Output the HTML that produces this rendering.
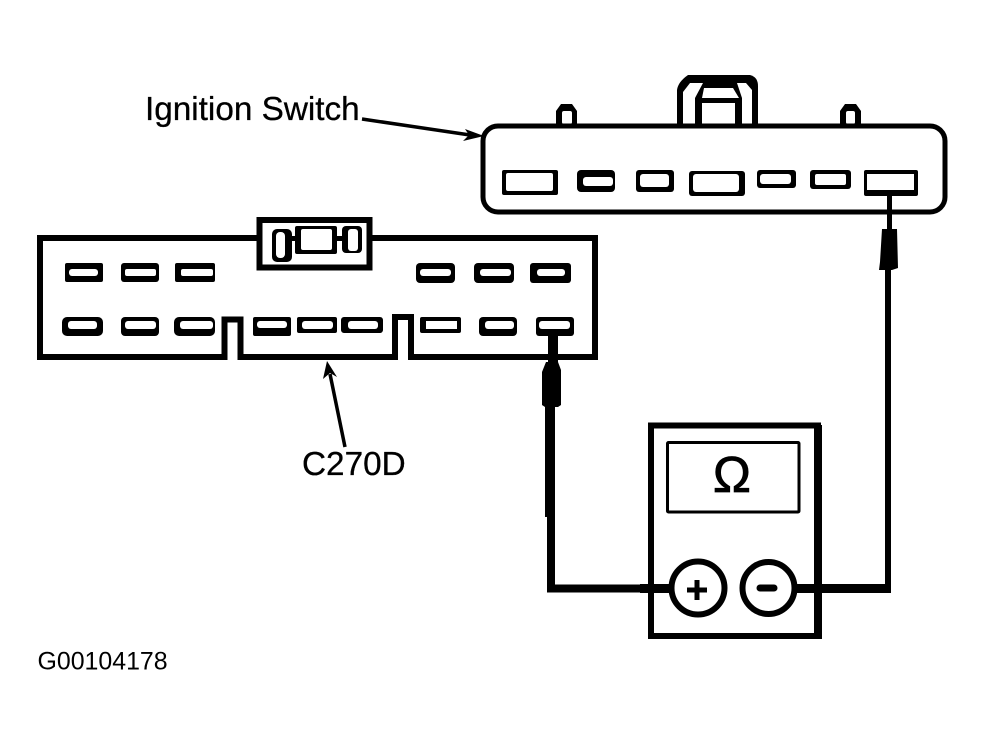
<!DOCTYPE html>
<html>
<head>
<meta charset="utf-8">
<style>
html,body{margin:0;padding:0;background:#fff;width:986px;height:745px;overflow:hidden}
svg{display:block}
text{font-family:"Liberation Sans",sans-serif;fill:#000}
.k{fill:#000}
.w{fill:#fff}
.l{fill:none;stroke:#000}
</style>
</head>
<body>
<svg width="986" height="745" viewBox="0 0 986 745" xmlns="http://www.w3.org/2000/svg">
<rect width="986" height="745" fill="#fff"/>

<!-- Labels -->
<text x="145" y="120" font-size="33.300" stroke="#000" stroke-width="0.300">Ignition Switch</text>
<text x="302" y="475" font-size="33.300" stroke="#000" stroke-width="0.300">C270D</text>
<text x="37.500" y="669.500" font-size="24.900">G00104178</text>

<!-- Ignition arrow -->
<path class="l" stroke-width="3.500" d="M362 119 L470 135"/>
<polygon class="k" points="484,136 465,129 469,135 463,141"/>

<!-- C270D arrow -->
<path class="l" stroke-width="3.500" d="M330 374 L345 447"/>
<polygon class="k" points="327,361 323,379 330,373 337,377"/>

<!-- Ignition switch tabs -->
<path class="k" d="M556 125 V111 L561 104 H572 L577 111 V125 Z"/>
<rect class="w" x="562" y="111" width="10" height="13" rx="2"/>
<path class="k" d="M840 125 V111 L845 104 H856 L861 111 V125 Z"/>
<rect class="w" x="846" y="111" width="9" height="13" rx="2"/>

<!-- Ignition switch latch -->
<path class="k" d="M677 125 V90 Q678 82 688 75 H750 Q758 77 758 86 V125 Z"/>
<polygon class="w" points="683,125 683,92 690,83 703,83 695,98 695,125"/>
<polygon class="w" points="742,125 742,98 737,83 746,83 752,90 752,125"/>
<polygon class="w" points="704,88 733,88 739,98 702,98"/>
<rect class="w" x="702" y="103" width="33" height="21"/>

<!-- Ignition switch body -->
<rect x="483" y="126" width="462" height="86" rx="15" fill="#fff" stroke="#000" stroke-width="5"/>

<!-- Ignition switch slots -->
<rect class="k" x="502" y="170" width="56" height="25" rx="2"/><rect class="w" x="506" y="173" width="47" height="18" rx="2"/>
<rect class="k" x="577" y="170" width="38" height="22" rx="4"/><rect class="w" x="583" y="177" width="30" height="9" rx="3"/>
<rect class="k" x="636" y="170" width="38" height="22" rx="3"/><rect class="w" x="640" y="174" width="29" height="13" rx="3"/>
<rect class="k" x="689" y="171" width="56" height="25" rx="3"/><rect class="w" x="693" y="174" width="46" height="18" rx="3"/>
<rect class="k" x="757" y="170" width="39" height="18" rx="3"/><rect class="w" x="760" y="174" width="31" height="10" rx="3"/>
<rect class="k" x="810" y="170" width="41" height="19" rx="3"/><rect class="w" x="815" y="174" width="31" height="11" rx="2"/>
<rect class="k" x="864" y="170" width="54" height="26" rx="2"/><rect class="w" x="867" y="174" width="47" height="16"/>

<!-- Left connector body -->
<path d="M40 238 H595 V357 H411 V317 H395 V357 H240.500 V319.500 H224.500 V357 H40 Z" fill="#fff" stroke="#000" stroke-width="6" stroke-linejoin="miter"/>

<!-- Left connector latch -->
<rect x="259.500" y="220" width="110" height="47.500" fill="#fff" stroke="#000" stroke-width="6"/>
<rect class="k" x="272" y="229" width="20" height="33" rx="5"/><rect class="w" x="276" y="232" width="9" height="26" rx="4"/>
<rect class="k" x="290" y="236" width="8" height="5"/>
<rect class="k" x="295" y="226" width="42" height="28" rx="2"/><rect class="w" x="301" y="229" width="31" height="21" rx="2"/>
<rect class="k" x="335" y="236" width="9" height="5"/>
<rect class="k" x="342" y="226" width="20" height="27" rx="4"/><rect class="w" x="348" y="229" width="10" height="22" rx="3"/>

<!-- Left connector top row -->
<rect class="k" x="65" y="263" width="38" height="19" rx="2"/><rect class="w" x="69" y="269" width="29" height="7" rx="3"/>
<rect class="k" x="121" y="263" width="38" height="19" rx="3"/><rect class="w" x="125" y="269" width="31" height="7" rx="2"/>
<rect class="k" x="175" y="263" width="40" height="19" rx="2"/><rect class="w" x="181" y="269" width="32" height="7" rx="2"/>
<rect class="k" x="416" y="263" width="39" height="20" rx="4"/><rect class="w" x="420" y="269" width="31" height="7" rx="3"/>
<rect class="k" x="474" y="263" width="40" height="20" rx="4"/><rect class="w" x="480" y="269" width="31" height="7" rx="3"/>
<rect class="k" x="530" y="263" width="41" height="20" rx="3"/><rect class="w" x="537" y="269" width="28" height="7" rx="3"/>

<!-- Left connector bottom row -->
<rect class="k" x="62" y="317" width="41" height="19" rx="5"/><rect class="w" x="68" y="321" width="29" height="8" rx="3"/>
<rect class="k" x="121" y="317" width="38" height="19" rx="4"/><rect class="w" x="125" y="321" width="31" height="8" rx="3"/>
<rect class="k" x="174" y="317" width="41" height="19" rx="5"/><rect class="w" x="180" y="321" width="33" height="8" rx="3"/>
<rect class="k" x="253" y="317" width="38" height="19" rx="2"/><rect class="w" x="257" y="321" width="30" height="7" rx="3"/>
<rect class="k" x="297" y="317" width="40" height="16" rx="2"/><rect class="w" x="302" y="321" width="31" height="8" rx="3"/>
<rect class="k" x="341" y="317" width="42" height="16" rx="3"/><rect class="w" x="348" y="321" width="30" height="8" rx="3"/>
<rect class="k" x="420" y="317" width="41" height="16" rx="2"/><rect class="w" x="426" y="321" width="31" height="8"/>
<rect class="k" x="479" y="317" width="38" height="19" rx="4"/><rect class="w" x="485" y="321" width="29" height="8" rx="3"/>
<rect class="k" x="536" y="317" width="38" height="19" rx="3"/><rect class="w" x="539" y="321" width="31" height="8" rx="3"/>

<!-- Left probe and wire -->
<rect class="k" x="548" y="336" width="10" height="28"/>
<path class="k" d="M546 362 H558 L561 370 V405 L558 407 H545 L542 405 V372 Z"/>
<rect class="k" x="545" y="405" width="10" height="112"/>
<path class="l" stroke-width="8" d="M551 515 V588.500 H670"/>

<!-- Right probe and wire -->
<rect class="k" x="887" y="195" width="5" height="35"/>
<path class="k" d="M882 229 H897 L898 268 L892 270 H879 L880 262 Z"/>
<rect class="k" x="885" y="268" width="6" height="325"/>
<rect class="k" x="797" y="584" width="94" height="9"/>

<!-- Meter -->
<rect x="651" y="425.500" width="167" height="210.500" fill="none" stroke="#000" stroke-width="6"/>
<rect x="814" y="425" width="8" height="214" class="k"/>
<rect x="667.500" y="442.500" width="131.500" height="69.500" rx="1" fill="none" stroke="#000" stroke-width="3"/>
<text x="732" y="492" font-size="51" text-anchor="middle" stroke="#000" stroke-width="0.800">Ω</text>

<!-- Wires through the meter -->
<rect class="k" x="640" y="584" width="32" height="9"/>
<rect class="k" x="795" y="584" width="30" height="9"/>

<!-- Terminals -->
<circle cx="698" cy="588" r="26.500" fill="#fff" stroke="#000" stroke-width="6"/>
<path class="l" stroke-width="5" d="M687 590 H707 M697 580 V600"/>
<circle cx="768.500" cy="588" r="26" fill="#fff" stroke="#000" stroke-width="6"/>
<path class="l" stroke-width="7" stroke-linecap="round" d="M760 588 H774"/>
</svg>
</body>
</html>
